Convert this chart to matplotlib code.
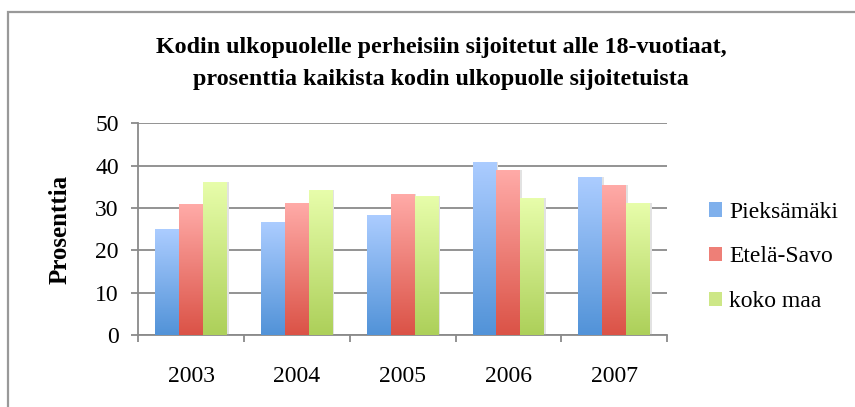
import numpy as np
import matplotlib
matplotlib.use("Agg")
import matplotlib.pyplot as plt
from matplotlib.colors import LinearSegmentedColormap
from matplotlib.patches import Rectangle, Patch

plt.rcParams['font.family'] = ['Liberation Serif', 'DejaVu Serif']

# data
years = ['2003', '2004', '2005', '2006', '2007']
pieksamaki = [24.9, 26.6, 28.2, 40.8, 37.3]
etela_savo = [30.9, 31.1, 33.2, 38.9, 35.4]
koko_maa = [36.1, 34.2, 32.8, 32.3, 31.1]
series_names = ['Pieksämäki', 'Etelä-Savo', 'koko maa']

# gradient colours (top, bottom)
grad = [('#abccff', '#5293d8'),
        ('#ffaaa7', '#db5347'),
        ('#e7fdaa', '#add05a')]
mid = ['#7fb0ec', '#ee7f77', '#cde787']

fig = plt.figure(figsize=(8.55, 4.07), dpi=100)
ax = fig.add_axes([138.3 / 855, 1 - 335 / 407, (667 - 138.3) / 855, (335 - 123.3) / 407])

# outer chart frame (right/bottom edges fall outside the picture)
fig.patches.append(Rectangle((8 / 855, -0.05), 1.2, 1 - 12 / 407 + 0.05,
                             transform=fig.transFigure, fill=False,
                             edgecolor='#999999', lw=1.6, zorder=0))

x = np.arange(len(years))
w = 0.226
grid_img = np.linspace(1, 0, 64).reshape(-1, 1)
for k, vals in enumerate([pieksamaki, etela_savo, koko_maa]):
    cmap = LinearSegmentedColormap.from_list('g%d' % k, [grad[k][1], grad[k][0]])
    xs = x + (k - 1) * w
    bars = ax.bar(xs, vals, width=w, color='none', zorder=3)
    for b in bars:
        x0, y0 = b.get_x(), b.get_y()
        bw, bh = b.get_width(), b.get_height()
        # faint shadow on the right
        ax.add_patch(Rectangle((x0 + bw, y0), 0.015, bh, color='#e2e2e2',
                               lw=0, zorder=2))
        ax.imshow(grid_img, cmap=cmap, aspect='auto', vmin=0, vmax=1,
                  extent=[x0, x0 + bw, y0, y0 + bh], zorder=3,
                  interpolation='bilinear')

ax.set_xlim(-0.5, len(years) - 0.5)
ax.set_ylim(0, 50)
ax.set_yticks([0, 10, 20, 30, 40, 50])
ax.set_xticks(np.arange(len(years) + 1) - 0.5)
ax.set_xticklabels([])
ax.set_xticks(x, minor=True)
ax.set_xticklabels(years, minor=True)
ax.tick_params(axis='x', which='minor', length=0, pad=22, labelsize=17)
ax.tick_params(axis='x', which='major', length=5, width=1.3, color='#8a8a8a')
ax.tick_params(axis='y', length=5, width=1.3, color='#8a8a8a', labelsize=17, pad=9)

ax.grid(axis='y', color='#8a8a8a', lw=1.3, zorder=1)
ax.set_axisbelow(True)
for s in ['top', 'right']:
    ax.spines[s].set_visible(False)
for s in ['left', 'bottom']:
    ax.spines[s].set_color('#8a8a8a')
    ax.spines[s].set_linewidth(1.3)

ax.set_ylabel('Prosenttia', fontsize=18, fontweight='bold', labelpad=17)

fig.text(0.516, 1 - 48 / 407, 'Kodin ulkopuolelle perheisiin sijoitetut alle 18-vuotiaat,',
         ha='center', va='center', fontsize=17.3, fontweight='bold')
fig.text(0.516, 1 - 80 / 407, 'prosenttia kaikista kodin ulkopuolle sijoitetuista',
         ha='center', va='center', fontsize=17.3, fontweight='bold')

handles = [Patch(facecolor=mid[k], edgecolor='none') for k in range(3)]
fig.legend(handles, series_names, loc='center left',
           bbox_to_anchor=(688 / 855, 1 - 257 / 407), frameon=False,
           fontsize=17, handlelength=0.55, handleheight=0.55,
           handletextpad=0.3, labelspacing=1.0)

fig.savefig('out.png', dpi=100)
